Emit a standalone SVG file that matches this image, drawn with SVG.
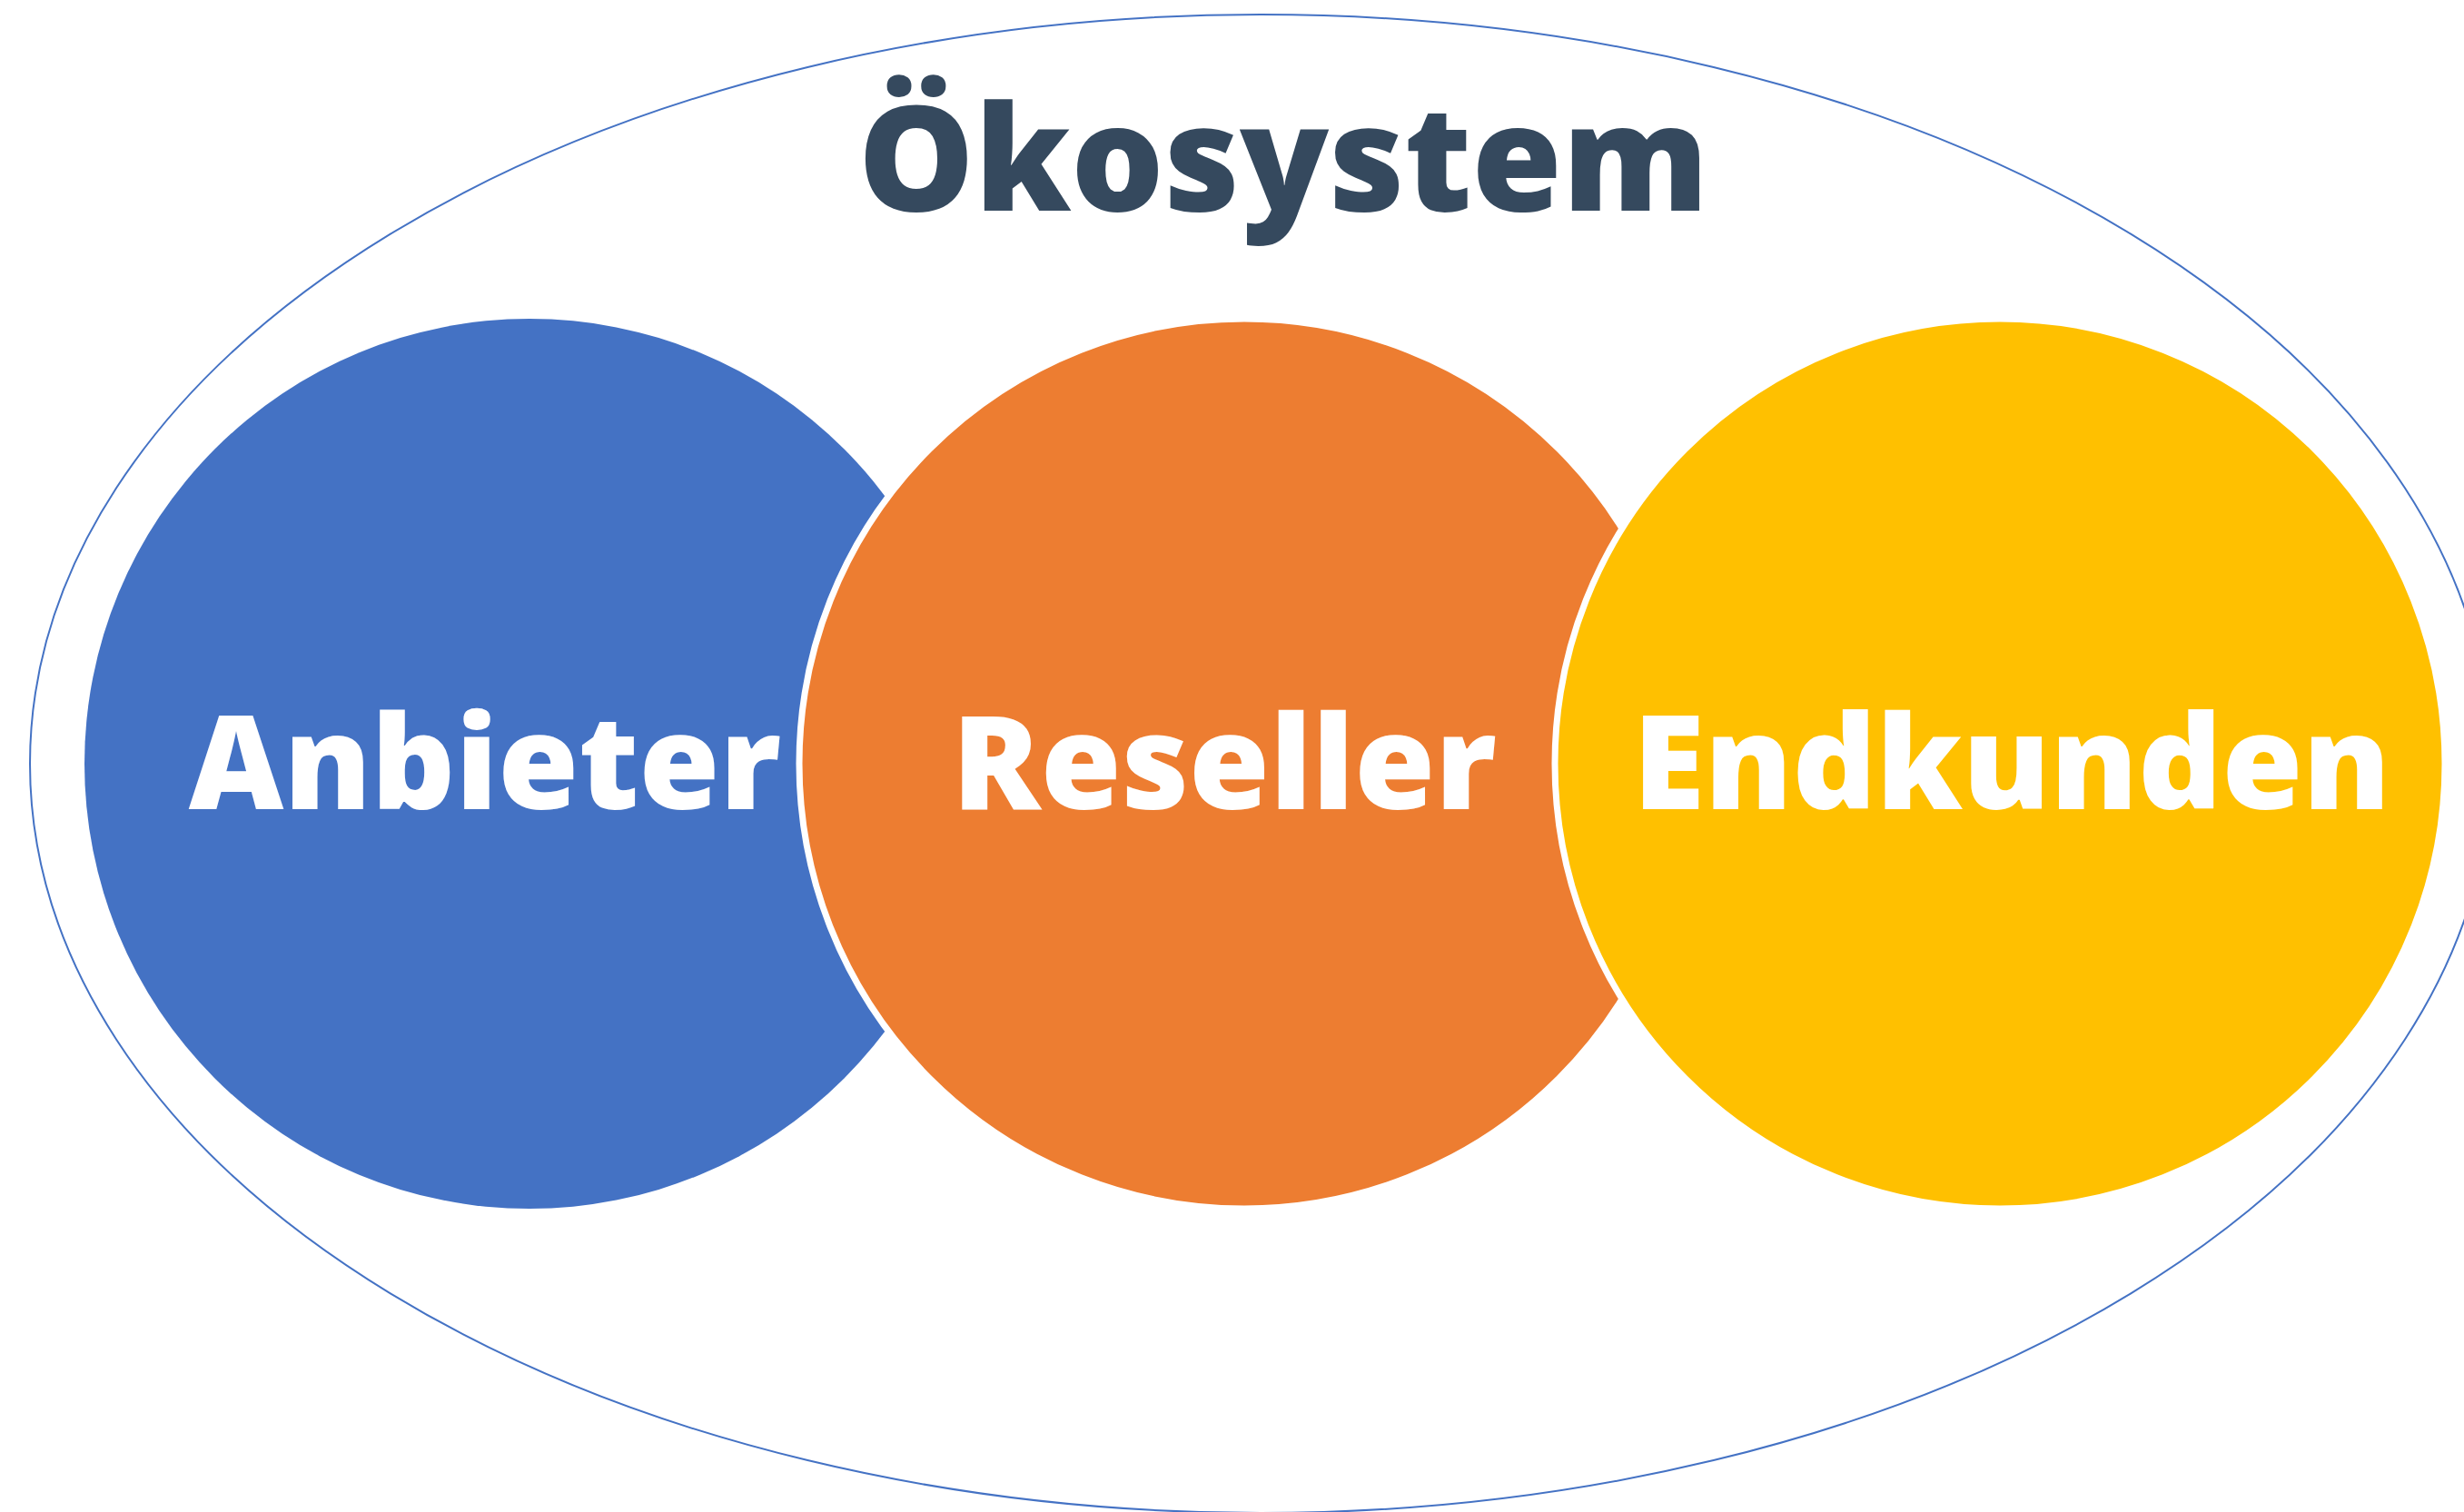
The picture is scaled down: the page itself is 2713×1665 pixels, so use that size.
<svg xmlns="http://www.w3.org/2000/svg" width="2713" height="1665" viewBox="0 0 2713 1665">
<style>
.lbl{font-family:"Open Sans","Liberation Sans",sans-serif;font-weight:800;fill:#FFFFFF;text-anchor:middle}
.title{font-family:"Open Sans","Liberation Sans",sans-serif;font-weight:800;fill:#35495E;text-anchor:middle}
.ring{stroke:#FFFFFF;stroke-width:7}
</style>
<rect width="2713" height="1665" fill="#FFFFFF"/>
<g id="oekosystem">
<ellipse cx="1388" cy="841" rx="1355" ry="825" fill="none" stroke="#4472C4" stroke-width="2"/>
<text class="title" x="1413" y="232" font-size="161">Ökosystem</text>
</g>
<g id="anbieter">
<circle cx="583" cy="841" r="490" fill="#4472C4"/>
<text class="lbl" x="534" y="891" font-size="144">Anbieter</text>
</g>
<g id="reseller">
<circle class="ring" cx="1370" cy="841" r="490" fill="#ED7D31"/>
<text class="lbl" x="1348" y="891" font-size="144">Reseller</text>
</g>
<g id="endkunden">
<circle class="ring" cx="2202" cy="841" r="490" fill="#FFC000"/>
<text class="lbl" x="2215" y="891" font-size="144">Endkunden</text>
</g>
<g id="connectors"/>
</svg>
